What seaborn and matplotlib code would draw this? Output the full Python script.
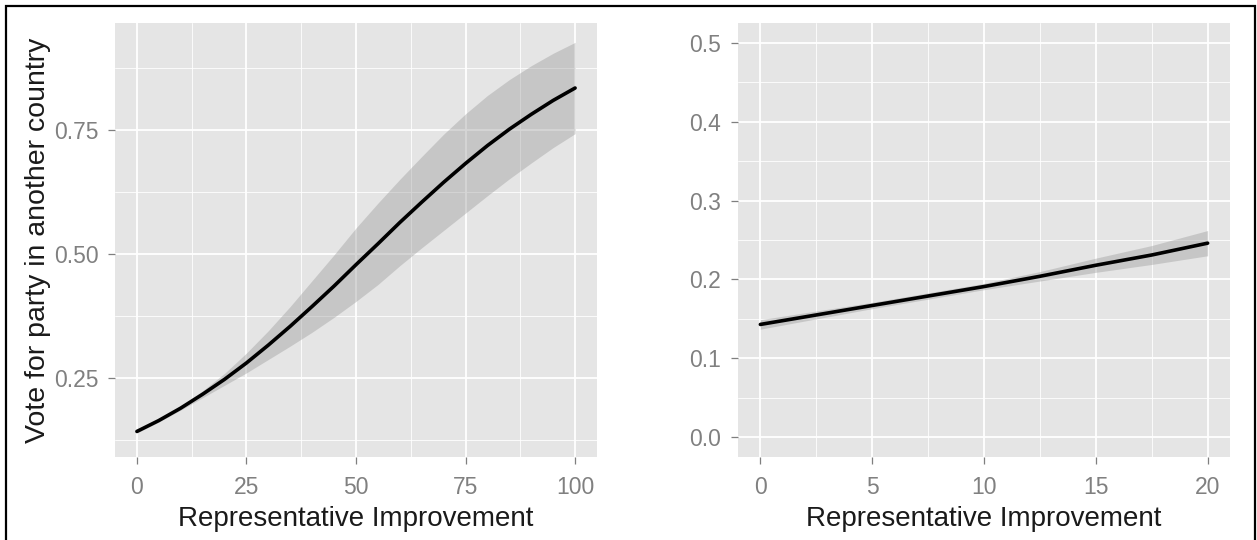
import matplotlib
matplotlib.use("Agg")
import matplotlib.pyplot as plt
import seaborn as sns
import pandas as pd
from matplotlib.patches import Rectangle

# left panel: predicted probability over 0-100
left_x = [0, 5, 10, 15, 20, 25, 30, 35, 40, 45, 50, 55, 60, 65, 70, 75, 80, 85, 90, 95, 100]
left_fit = [0.143, 0.165, 0.190, 0.218, 0.248, 0.281, 0.317, 0.355, 0.395, 0.436, 0.479,
            0.521, 0.564, 0.605, 0.645, 0.683, 0.719, 0.752, 0.782, 0.810, 0.835]
left_upper = [0.146, 0.168, 0.194, 0.225, 0.260, 0.301, 0.346, 0.395, 0.447, 0.499, 0.553,
              0.603, 0.651, 0.697, 0.742, 0.783, 0.820, 0.852, 0.880, 0.905, 0.927]
left_lower = [0.140, 0.162, 0.186, 0.211, 0.236, 0.261, 0.288, 0.315, 0.343, 0.373, 0.405,
              0.439, 0.477, 0.513, 0.548, 0.583, 0.618, 0.652, 0.684, 0.715, 0.743]

# right panel: zoomed range 0-20
right_x = [0, 2.5, 5, 7.5, 10, 12.5, 15, 17.5, 20]
right_fit = [0.143, 0.155, 0.167, 0.179, 0.191, 0.204, 0.218, 0.231, 0.246]
right_upper = [0.149, 0.160, 0.171, 0.183, 0.195, 0.210, 0.227, 0.243, 0.262]
right_lower = [0.137, 0.150, 0.163, 0.175, 0.187, 0.198, 0.209, 0.219, 0.230]

left_xticks = [0, 25, 50, 75, 100]
left_yticks = [0.25, 0.50, 0.75]
left_yticklabels = ["0.25", "0.50", "0.75"]
right_xticks = [0, 5, 10, 15, 20]
right_yticks = [0.0, 0.1, 0.2, 0.3, 0.4, 0.5]
right_yticklabels = ["0.0", "0.1", "0.2", "0.3", "0.4", "0.5"]

x_title = "Representative Improvement"
y_title = "Vote for party in another country"

sns.set_theme(style="darkgrid", rc={"axes.facecolor": "#E5E5E5", "grid.color": "white"})
plt.rcParams["font.family"] = ["Liberation Sans", "DejaVu Sans"]

fig = plt.figure(figsize=(12.57, 5.4), dpi=100)
ax1 = fig.add_axes([115 / 1257, 83 / 540, 482 / 1257, 434 / 540])
ax2 = fig.add_axes([738 / 1257, 83 / 540, 492 / 1257, 434 / 540])

left_df = pd.DataFrame({"x": left_x, "fit": left_fit})
right_df = pd.DataFrame({"x": right_x, "fit": right_fit})


def draw_panel(ax, df, lower, upper, xticks, yticks, yticklabels, xlim, ylim, xminor, yminor):
    ax.fill_between(df["x"], lower, upper, color="#999999", alpha=0.4, lw=0, zorder=2)
    sns.lineplot(data=df, x="x", y="fit", ax=ax, color="black", lw=2.6, zorder=3)
    ax.set_xlim(xlim)
    ax.set_ylim(ylim)
    ax.set_xticks(xticks)
    ax.set_xticklabels([str(t) for t in xticks])
    ax.set_yticks(yticks)
    ax.set_yticklabels(yticklabels)
    ax.set_xticks(xminor, minor=True)
    ax.set_yticks(yminor, minor=True)
    ax.grid(which="major", color="white", lw=1.3)
    ax.grid(which="minor", color="white", lw=0.6)
    ax.set_axisbelow(True)
    for s in ax.spines.values():
        s.set_visible(False)
    ax.tick_params(which="major", bottom=True, left=True, direction="out", length=5, width=0.9,
                   color="#7F7F7F", labelcolor="#808080", labelsize=16.5)
    ax.tick_params(axis="x", which="major", pad=9)
    ax.tick_params(axis="y", which="major", pad=7)
    ax.tick_params(which="minor", bottom=False, left=False, length=0)
    ax.set_xlabel(x_title, fontsize=20, color="#1a1a1a", labelpad=5)


draw_panel(ax1, left_df, left_lower, left_upper, left_xticks, left_yticks, left_yticklabels,
           (-5, 105), (0.0915, 0.966), [12.5, 37.5, 62.5, 87.5], [0.125, 0.375, 0.625, 0.875])
ax1.set_ylabel(y_title, fontsize=20.5, color="#1a1a1a", labelpad=2)

draw_panel(ax2, right_df, right_lower, right_upper, right_xticks, right_yticks, right_yticklabels,
           (-1, 21), (-0.025, 0.525), [2.5, 7.5, 12.5, 17.5], [0.05, 0.15, 0.25, 0.35, 0.45])
ax2.set_ylabel("")

# frame around the whole picture
fig.patches.append(Rectangle((6 / 1257, -0.05), 1249 / 1257, 1.05 - 6 / 540,
                             transform=fig.transFigure, fill=False, ec="black", lw=1.6))

fig.savefig("out.png", dpi=100)
